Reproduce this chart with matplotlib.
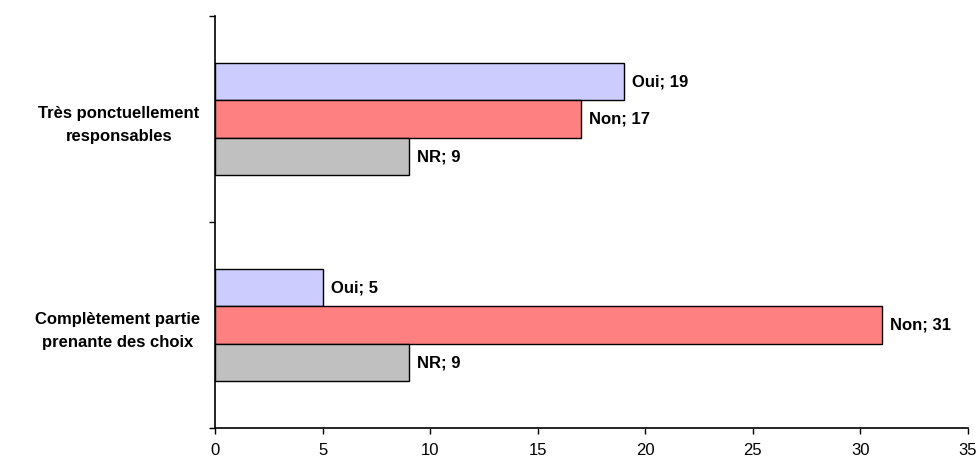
import numpy as np
import matplotlib
matplotlib.use("Agg")
import matplotlib.pyplot as plt

plt.rcParams['font.family'] = ['Liberation Sans', 'DejaVu Sans']

# Données
categories = ["Complètement partie\nprenante des choix", "Très ponctuellement\nresponsables"]
series = ["Oui", "Non", "NR"]
oui = [5, 19]
non = [31, 17]
nr = [9, 9]
couleurs = ["#CCCCFF", "#FF8080", "#C0C0C0"]
xticks = [0, 5, 10, 15, 20, 25, 30, 35]

fig = plt.figure(figsize=(9.79, 4.59), dpi=100)
ax = fig.add_axes([0.2196, 0.0675, 0.7692, 0.8976])

y = np.arange(len(categories))
h = 0.182
offsets = [h, 0, -h]

for vals, nom, col, off in zip([oui, non, nr], series, couleurs, offsets):
    bars = ax.barh(y + off, vals, height=h, color=col, edgecolor="black", linewidth=1.0)
    for b, v in zip(bars, vals):
        ax.annotate(f"{nom}; {v}", xy=(b.get_width(), b.get_y() + b.get_height() / 2),
                    xytext=(6, 0), textcoords="offset points", va="center", ha="left",
                    fontsize=12, fontweight="bold")

ax.set_xlim(0, 35)
ax.set_ylim(-0.5, 1.5)
ax.set_xticks(xticks)
ax.set_xticklabels([str(t) for t in xticks], fontsize=12)

ax.set_yticks(y)
ax.set_yticklabels(categories, fontsize=12, fontweight="bold", multialignment="center", linespacing=1.7)
ax.tick_params(axis="y", which="major", length=0, pad=11)
ax.set_yticks([-0.5, 0.5, 1.5], minor=True)
ax.tick_params(axis="y", which="minor", length=4, direction="out", width=1)
ax.tick_params(axis="x", length=4, direction="out", width=1, pad=7)

for s in ["top", "right"]:
    ax.spines[s].set_visible(False)
for s in ["left", "bottom"]:
    ax.spines[s].set_linewidth(1.2)

fig.savefig("out.png", dpi=100)
